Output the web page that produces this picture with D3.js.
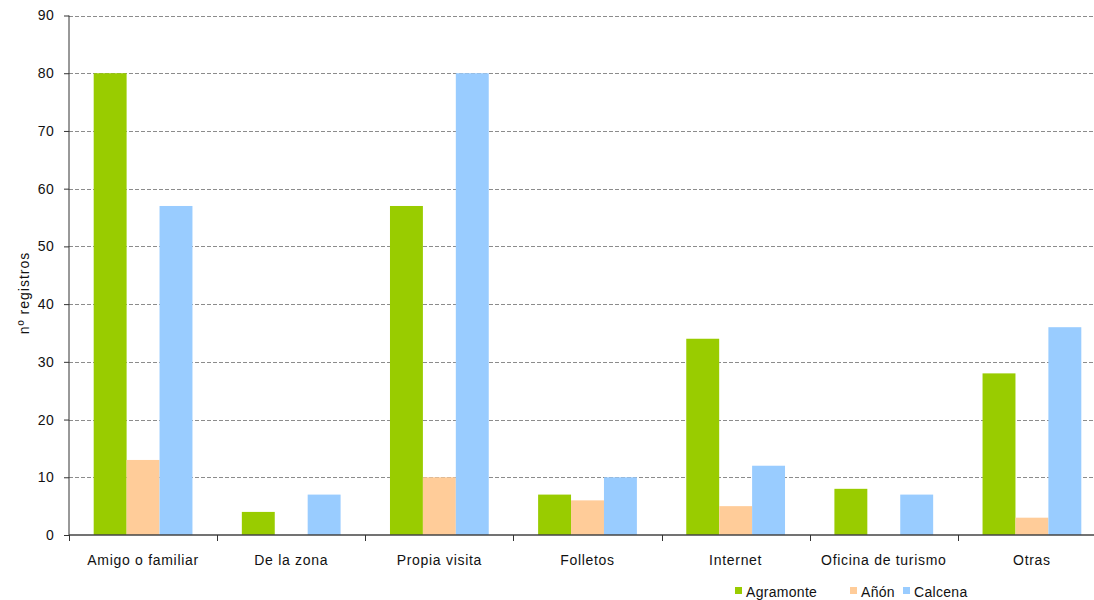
<!DOCTYPE html>
<html><head><meta charset="utf-8">
<script src="https://cdn.jsdelivr.net/npm/d3@7"></script>
<style>body{margin:0;background:#fff;} svg{display:block;} text{font-family:"Liberation Sans",Arial,sans-serif;fill:#111;}</style>
</head><body>
<svg id="c" width="1094" height="600"></svg>
<script>
const categories = ["Amigo o familiar","De la zona","Propia visita","Folletos","Internet","Oficina de turismo","Otras"];
const seriesNames = ["Agramonte","Añón","Calcena"];
const agramonte = [80,4,57,7,34,8,28];
const anon = [13,0,10,6,5,0,3];
const calcena = [57,7,80,10,12,7,36];
const yTicks = [0,10,20,30,40,50,60,70,80,90];
const colors = ["#99cc00","#ffcc99","#99ccff"];
const values = [agramonte, anon, calcena];

(function(){
const svg = d3.select("#c");
const pl = 69, pr = 1106, pt = 15.5, pb = 535;
const x = d3.scaleBand().domain(categories).range([pl, pr]).paddingInner(0).paddingOuter(0);
const y = d3.scaleLinear().domain([0,90]).range([pb, pt]);
const bw = x.bandwidth()/4.5;
const xs = d3.scaleBand().domain(seriesNames).range([0.75*bw, 3.75*bw]).padding(0);

// gridlines
svg.append("g").selectAll("line").data(yTicks.filter(d=>d>0)).join("line")
  .attr("x1", pl).attr("x2", 1094).attr("y1", d=>Math.round(y(d))+0.5).attr("y2", d=>Math.round(y(d))+0.5)
  .attr("stroke","#8c8c8c").attr("stroke-width",1).attr("stroke-dasharray","4,2");

// bars
const data = [];
categories.forEach((c,i)=>seriesNames.forEach((s,j)=>data.push({c,s,v:values[j][i],j})));
svg.append("g").selectAll("rect").data(data.filter(d=>d.v>0)).join("rect")
  .attr("x", d=>x(d.c)+xs(d.s)).attr("width", xs.bandwidth())
  .attr("y", d=>y(d.v)).attr("height", d=>y(0)-y(d.v))
  .attr("fill", d=>colors[d.j]);

// y axis
const ya = svg.append("g").attr("transform",`translate(${pl},0)`)
  .call(d3.axisLeft(y).tickValues(yTicks).tickSize(5).tickPadding(10));
ya.select(".domain").attr("stroke","#333").attr("d",`M-0,${pt}V${pb}`);
ya.selectAll(".tick line").attr("stroke","#333");
ya.selectAll("text").attr("font-size",14).attr("fill","#111").attr("font-family","Liberation Sans, Arial, sans-serif").attr("letter-spacing","0.3px");

// x axis
const xa = svg.append("g").attr("transform",`translate(0,${pb})`)
  .call(d3.axisBottom(x).tickSize(0).tickPadding(20));
xa.select(".domain").attr("stroke","#444").attr("stroke-width",1.5).attr("d",`M${pl},0H1094`);
xa.selectAll("text").attr("font-size",14).attr("fill","#111").attr("font-family","Liberation Sans, Arial, sans-serif").attr("letter-spacing","0.7px");
svg.append("g").selectAll("line").data(categories).join("line")
  .attr("x1", d=>Math.round(x(d))+0.5).attr("x2", d=>Math.round(x(d))+0.5)
  .attr("y1", pb).attr("y2", pb+6).attr("stroke","#333");

// y title
svg.append("text").attr("transform","translate(29,293) rotate(-90)").attr("text-anchor","middle")
  .attr("font-size",14).attr("letter-spacing","1px").text("nº registros");

// legend
const legX = [735, 850, 903];
const lg = svg.append("g").selectAll("g").data(seriesNames).join("g")
  .attr("transform",(d,i)=>`translate(${legX[i]},587)`);
lg.append("rect").attr("width",7).attr("height",7).attr("fill",(d,i)=>colors[i]);
lg.append("text").attr("x",11).attr("y",10).attr("font-size",14).attr("letter-spacing","0.3px").text(d=>d);
})();
</script>
</body></html>
